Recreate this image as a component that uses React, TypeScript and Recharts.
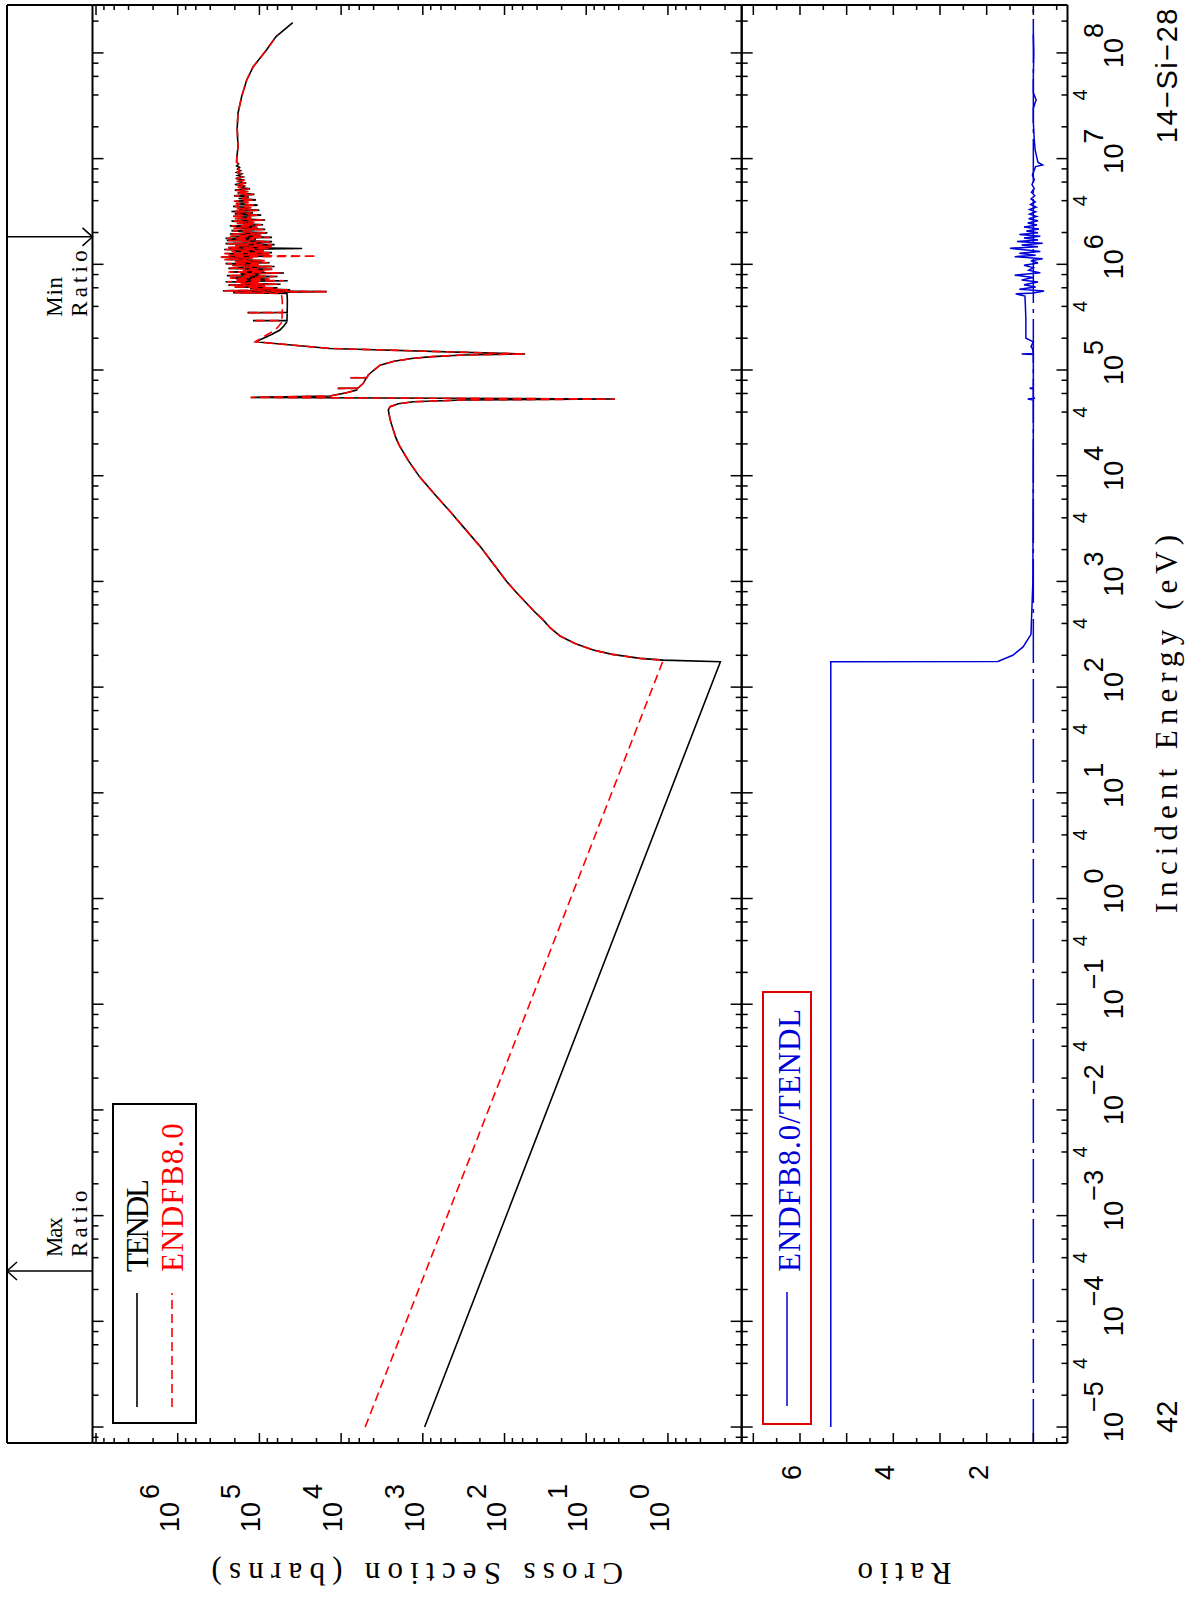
import React from "react";
import { LineChart, Line, XAxis, YAxis, ReferenceLine, Legend } from "recharts";

// page is portrait, the plot is drawn landscape and turned a quarter turn
const W = 1604;
const H = 1185;
const L = 161;
const R = 1599;
const T0 = 7;
const T1 = 92.5;
const B1 = 741.7;
const B2 = 1067.5;
const YW = 1;
const XH = 1;

const NUM_FONT = "'Liberation Sans', Arial, Helvetica, sans-serif";
const TXT_FONT = "'Liberation Serif', 'DejaVu Serif', serif";
const BLUE = "#0000d8";
const RED = "#ff0000";

const E_DOMAIN = [7.06e-6, 2.84e8];
const XS_DOMAIN = [0.125, 1.104e7];
const RATIO_DOMAIN = [0.268, 7.249];

const E_DECADES = [-6, -5, -4, -3, -2, -1, 0, 1, 2, 3, 4, 5, 6, 7, 8];
const XS_DECADES = [-1, 0, 1, 2, 3, 4, 5, 6, 7];
const MINOR_MULTS = [2, 4, 6, 8];
const E_LABEL_MULT = 4;
const XS_LABEL_DECADES = [0, 1, 2, 3, 4, 5, 6];
const RATIO_TICKS = [0.5, 1, 1.5, 2, 2.5, 3, 3.5, 4, 4.5, 5, 5.5, 6, 6.5, 7];
const RATIO_LABELS = [2, 4, 6];
const LEGEND_ORDER = ["TENDL", "ENDFB8.0"];

const MAX_RATIO_E = 2.99e-4;
const MIN_RATIO_E = 1.82e6;

// cross sections (eV, barns)
const TENDL_LOW_E = [1e-5, 174];
const TENDL_LOW_XS = [950, 0.228];
const ENDF_LOW_E = [1e-5];
const ENDF_LOW_XS = [5073];

const SHARED_E = [180, 187, 204, 224, 257, 304, 363, 440, 519, 615, 794, 1005, 1445, 2090, 3090, 4560, 6607, 9750, 13800, 19500, 22900, 27000, 33900, 41900, 45000, 47900, 50100, 52000, 53200, 55000, 56700, 61000, 64700, 67000, 67100, 67200, 74800, 84400, 84600, 84800, 89700, 100000, 111000, 121000, 129000, 134000, 138700, 141700, 160000, 185000];
const SHARED_XS = [1.14, 2.19, 4.79, 8.2, 13.5, 20.9, 27.5, 34.4, 43.2, 53, 72.4, 94.6, 135, 194, 299, 460, 708, 1094, 1496, 1950, 2138, 2296, 2512, 2644, 2512, 1995, 1318, 324, 4.44, 1.28e5, 1.37e4, 8600, 6440, 6300, 1.1e4, 6250, 5350, 4900, 7700, 4850, 4650, 3950, 3340, 2250, 1306, 760, 319, 56, 1.37e4, 1.12e5];

const MID_E = [199500, 218000, 239000, 262000, 285000, 292000, 293000, 294000, 330000, 348000, 349000, 350000, 459000, 530000];
const TENDL_MID_XS = [8.95e4, 7.0e4, 5.6e4, 5.0e4, 4.62e4, 4.6e4, 1.2e5, 4.6e4, 4.58e4, 4.57e4, 1.4e5, 4.57e4, 4.55e4, 4.6e4];
const ENDF_MID_XS = [9.6e4, 7.9e4, 6.4e4, 5.75e4, 5.3e4, 5.3e4, 1.2e5, 5.3e4, 5.27e4, 5.25e4, 1.4e5, 5.25e4, 5.25e4, 5.4e4];

const RES_E = [5.4e5, 5.52e5, 5.62e5, 5.75e5, 5.9e5, 6.0e5, 6.12e5, 6.22e5, 6.35e5, 6.48e5, 6.6e5, 6.72e5, 6.85e5, 7.0e5, 7.12e5, 7.25e5, 7.4e5, 7.55e5, 7.68e5, 7.82e5, 7.98e5, 8.12e5, 8.28e5, 8.45e5, 8.62e5, 8.8e5, 8.98e5, 9.15e5, 9.35e5, 9.55e5, 9.75e5, 9.95e5, 1.015e6, 1.035e6, 1.06e6, 1.085e6, 1.11e6, 1.14e6, 1.17e6, 1.195e6, 1.215e6, 1.24e6, 1.265e6, 1.29e6, 1.32e6, 1.35e6, 1.38e6, 1.41e6, 1.44e6, 1.47e6, 1.5e6, 1.535e6, 1.57e6, 1.605e6, 1.64e6, 1.68e6, 1.72e6, 1.76e6, 1.8e6, 1.845e6, 1.89e6, 1.935e6, 1.985e6, 2.035e6, 2.085e6, 2.14e6, 2.195e6, 2.25e6, 2.31e6, 2.37e6, 2.43e6, 2.495e6, 2.56e6, 2.63e6, 2.7e6, 2.77e6, 2.845e6, 2.92e6, 3.0e6, 3.08e6, 3.16e6, 3.25e6, 3.34e6, 3.43e6, 3.53e6, 3.63e6, 3.73e6, 3.84e6, 3.95e6, 4.07e6, 4.19e6, 4.32e6, 4.45e6, 4.59e6, 4.73e6, 4.88e6, 5.03e6, 5.19e6, 5.35e6, 5.52e6, 5.7e6, 5.88e6, 6.07e6, 6.27e6, 6.48e6, 6.7e6, 6.93e6, 7.17e6, 7.42e6, 7.68e6, 7.96e6, 8.25e6, 8.56e6, 8.9e6, 9.27e6, 9.7e6];
const TENDL_RES_XS = [
  2.1e5, 1.5e4, 2.8e5, 4.2e4, 1.3e5, 6.0e4, 2.0e5, 9.0e4, 2.4e5, 5.5e4,
  1.6e5, 1.1e5, 2.6e5, 4.5e4, 1.9e5, 8.0e4, 2.2e5, 1.2e5, 6.0e4, 2.5e5,
  1.0e5, 1.7e5, 5.0e4, 2.3e5, 9.0e4, 1.5e5, 7.0e4, 2.4e5, 1.3e5, 6.5e4,
  2.1e5, 1.05e5, 2.6e5, 7.5e4, 1.9e5, 9.0e4, 2.6e5, 1.3e5, 2.9e5, 8.5e4,
  2.3e5, 8.0e4, 2.6e5, 7.0e4, 2.1e5, 9.0e4, 2.7e5, 3.0e4, 2.4e5, 7.5e4,
  1.9e5, 6.5e4, 2.6e5, 1.0e5, 7.0e4, 2.5e5, 1.1e5, 2.6e5, 7.0e4, 2.2e5,
  1.0e5, 2.3e5, 8.0e4, 1.6e5, 2.2e5, 8.5e4, 2.0e5, 1.1e5, 2.3e5, 9.0e4,
  1.8e5, 1.2e5, 2.2e5, 8.5e4, 1.9e5, 1.3e5, 2.1e5, 9.5e4, 2.0e5, 1.2e5,
  2.2e5, 1.0e5, 1.8e5, 1.3e5, 2.1e5, 1.05e5, 1.9e5, 1.4e5, 2.0e5, 1.1e5,
  1.8e5, 1.35e5, 2.05e5, 1.15e5, 1.85e5, 1.4e5, 2.0e5, 1.3e5, 1.8e5, 1.5e5,
  2.0e5, 1.45e5, 1.85e5, 1.55e5, 1.95e5, 1.6e5, 1.85e5, 1.65e5, 1.9e5, 1.7e5,
  1.85e5, 1.75e5, 1.9e5, 1.8e5, 1.9e5, 1.9e5,
];
const ENDF_RES_XS = [
  2.0e5, 1.5e4, 2.7e5, 4.5e4, 1.25e5, 6.5e4, 2.1e5, 8.5e4, 2.3e5, 6.0e4,
  1.7e5, 1.0e5, 2.5e5, 5.0e4, 2.0e5, 7.5e4, 2.3e5, 1.1e5, 6.5e4, 2.4e5,
  1.05e5, 1.6e5, 5.5e4, 2.4e5, 8.5e4, 1.6e5, 6.5e4, 2.3e5, 1.4e5, 7.0e4,
  2.2e5, 1.0e5, 2.5e5, 8.0e4, 2.0e5, 8.5e4, 2.7e5, 1.2e5, 3.0e5, 2.0e4,
  2.4e5, 7.5e4, 2.7e5, 7.5e4, 2.2e5, 8.5e4, 2.6e5, 7.5e4, 2.5e5, 7.0e4,
  2.0e5, 7.0e4, 2.5e5, 1.05e5, 7.5e4, 2.4e5, 1.15e5, 2.5e5, 7.5e4, 2.3e5,
  9.5e4, 2.2e5, 8.5e4, 1.7e5, 2.1e5, 9.0e4, 2.1e5, 1.05e5, 2.2e5, 9.5e4,
  1.9e5, 1.15e5, 2.1e5, 9.0e4, 2.0e5, 1.25e5, 2.2e5, 1.0e5, 1.9e5, 1.25e5,
  2.1e5, 1.05e5, 1.9e5, 1.25e5, 2.0e5, 1.1e5, 1.95e5, 1.35e5, 2.05e5, 1.15e5,
  1.75e5, 1.4e5, 2.0e5, 1.2e5, 1.9e5, 1.35e5, 1.95e5, 1.35e5, 1.85e5, 1.45e5,
  1.95e5, 1.5e5, 1.9e5, 1.5e5, 1.9e5, 1.65e5, 1.8e5, 1.7e5, 1.85e5, 1.75e5,
  1.8e5, 1.8e5, 1.85e5, 1.8e5, 1.9e5, 1.9e5,
];

const HIGH_E = [1.3e7, 1.94e7, 2.68e7, 3.86e7, 5.55e7, 7.41e7, 1.07e8, 1.42e8];
const HIGH_XS = [1.83e5, 1.87e5, 1.83e5, 1.65e5, 1.43e5, 1.19e5, 8.15e4, 6.3e4];
const TENDL_TAIL_E = [1.93e8];
const TENDL_TAIL_XS = [3.91e4];
const ENDF_TAIL_E = [1.5e8];
const ENDF_TAIL_XS = [5.9e4];

// ENDFB8.0 / TENDL
const RATIO_E = [
  1e-5, 174, 175, 200, 240, 316, 1000, 30000, 52000, 53200, 54000, 56000, 66000, 67100, 68000, 140000, 141700, 143000, 160000, 166000, 185000, 200000, 300000, 400000, 500000, 525000, 535000,
  5.6e5, 5.8e5, 6.1e5, 6.4e5, 6.8e5, 7.1e5, 7.5e5, 7.9e5, 8.3e5, 8.8e5, 9.3e5, 9.8e5, 1.03e6, 1.08e6, 1.13e6, 1.18e6, 1.22e6, 1.27e6, 1.32e6, 1.37e6, 1.42e6, 1.47e6, 1.52e6, 1.58e6, 1.64e6, 1.7e6, 1.77e6, 1.84e6, 1.91e6, 1.99e6, 2.07e6, 2.16e6, 2.25e6, 2.35e6, 2.46e6, 2.58e6, 2.7e6, 2.84e6, 2.98e6, 3.14e6, 3.3e6, 3.48e6, 3.68e6, 3.9e6, 4.15e6, 4.45e6, 4.8e6, 5.2e6, 5.7e6, 6.3e6, 7.0e6, 7.8e6, 8.4e6, 8.7e6, 9.2e6, 1.0e7, 1.2e7, 1.5e7, 2.2e7, 3.0e7, 3.6e7, 4.2e7, 6e7, 1e8, 1.5e8,
];
const RATIO_V = [
  5.34, 5.34, 1.76, 1.44, 1.22, 1.05, 1.01, 1.0, 1.0, 1.12, 0.98, 1.0, 1.0, 1.08, 1.0, 1.0, 1.25, 1.0, 1.02, 1.05, 1.0, 1.16, 1.16, 1.17, 1.18, 1.38, 1.0,
  0.77, 1.3, 0.95, 1.2, 0.9, 1.25, 1.0, 1.4, 0.85, 1.1, 1.0, 1.2, 0.9, 1.05, 0.8, 1.4, 0.95, 1.3, 0.85, 1.2, 1.5, 0.9, 1.25, 0.8, 1.35, 0.9, 1.2, 0.85, 1.3, 0.9, 1.15, 0.88, 1.2, 0.92, 1.12, 0.9, 1.1, 0.93, 1.08, 0.95, 1.08, 0.94, 1.06, 0.96, 1.05, 0.97, 1.04, 0.98, 1.03, 0.98, 1.02, 0.98, 0.95, 0.8, 0.9, 0.92, 0.96, 0.98, 1.0, 1.0, 0.94, 1.0, 1.0, 0.99, 1.0,
];

const pairs = (es: number[], vs: number[], key: string) => es.map((e, i) => ({ e, [key]: vs[i] }));

const tendlData = [
  ...pairs(TENDL_LOW_E, TENDL_LOW_XS, "xs"),
  ...pairs(SHARED_E, SHARED_XS, "xs"),
  ...pairs(MID_E, TENDL_MID_XS, "xs"),
  ...pairs(RES_E, TENDL_RES_XS, "xs"),
  ...pairs(HIGH_E, HIGH_XS, "xs"),
  ...pairs(TENDL_TAIL_E, TENDL_TAIL_XS, "xs"),
];
const endfData = [
  ...pairs(ENDF_LOW_E, ENDF_LOW_XS, "xs"),
  ...pairs(SHARED_E, SHARED_XS, "xs"),
  ...pairs(MID_E, ENDF_MID_XS, "xs"),
  ...pairs(RES_E, ENDF_RES_XS, "xs"),
  ...pairs(HIGH_E, HIGH_XS, "xs"),
  ...pairs(ENDF_TAIL_E, ENDF_TAIL_XS, "xs"),
];
const ratioData = pairs(RATIO_E, RATIO_V, "r");

const decadeTicks = (decades: number[], dom: number[]) =>
  decades
    .flatMap((d) => [1, ...MINOR_MULTS].map((m) => m * Math.pow(10, d)))
    .filter((v) => v >= dom[0] && v <= dom[1])
    .sort((a, b) => a - b);

const E_TICKS = decadeTicks(E_DECADES, E_DOMAIN);
const XS_TICKS = decadeTicks(XS_DECADES, XS_DOMAIN);

const split = (v: number) => {
  const e = Math.floor(Math.log10(v) + 1e-9);
  return { e, m: Math.round(v / Math.pow(10, e)) };
};

const expText = (e: number) => (e < 0 ? "\u2212" + -e : String(e));

// typewriter-like text: serif glyphs on an even advance
const Mono = ({ children, adv, ...rest }: any) => {
  const s = String(children);
  return (
    <text fontFamily={TXT_FONT} textLength={s.length * adv} lengthAdjust="spacing" {...rest}>
      {s}
    </text>
  );
};

const energyTick = (dir: number, labels: boolean) => (p: any) => {
  const { x, y, payload } = p;
  const { e, m } = split(payload.value);
  const major = m === 1;
  return (
    <g>
      <line x1={x} x2={x} y1={y} y2={y + dir * (major ? 11 : 6)} stroke="#000" strokeWidth={1.5} />
      {labels && major && (
        <g fontFamily={NUM_FONT} fontSize={27} fill="#000">
          <text x={x} y={y + 55.5} textAnchor="middle">10</text>
          <text x={x + 15} y={y + 35.5}>{expText(e)}</text>
        </g>
      )}
      {labels && m === E_LABEL_MULT && (
        <text x={x} y={y + 19.5} textAnchor="middle" fontFamily={NUM_FONT} fontSize={20}>
          {E_LABEL_MULT}
        </text>
      )}
    </g>
  );
};

const xsTick = (dir: number, labels: boolean) => (p: any) => {
  const { x, y, payload } = p;
  const { e, m } = split(payload.value);
  const major = m === 1;
  return (
    <g>
      <line x1={x} x2={x + dir * (major ? 10 : 5)} y1={y} y2={y} stroke="#000" strokeWidth={1.5} />
      {labels && major && XS_LABEL_DECADES.includes(e) && (
        <g fontFamily={NUM_FONT} fontSize={27} fill="#000">
          <text x={x - 59} y={y + 1} textAnchor="end">10</text>
          <text x={x - 56} y={y - 19}>{expText(e)}</text>
        </g>
      )}
    </g>
  );
};

const ratioTick = (dir: number, labels: boolean) => (p: any) => {
  const { x, y, payload } = p;
  const v = payload.value;
  const major = Number.isInteger(v);
  return (
    <g>
      <line x1={x} x2={x + dir * (major ? 10 : 5)} y1={y} y2={y} stroke="#000" strokeWidth={1.5} />
      {labels && RATIO_LABELS.includes(v) && (
        <text x={x - 22} y={y + 1} textAnchor="end" fontFamily={NUM_FONT} fontSize={27}>
          {v}
        </text>
      )}
    </g>
  );
};

const axisLine = { stroke: "#000", strokeWidth: 2 };
const common = { tickLine: false, tickSize: 0, tickMargin: 0, axisLine, interval: 0 as const, allowDataOverflow: true };

const arrowLabel = (title: string, atTop: boolean) => (p: any) => {
  const vb = p.viewBox || {};
  const x = vb.x ?? 0;
  const top = vb.y ?? T0;
  const bottom = top + (vb.height ?? T1 - T0);
  const tip = atTop ? top : bottom;
  const wing = atTop ? top + 10 : bottom - 10;
  const tx = atTop ? x + 14 : x - 80;
  return (
    <g>
      <polyline points={`${x - 9},${wing} ${x},${tip} ${x + 9},${wing}`} fill="none" stroke="#000" strokeWidth={1.5} />
      <g fontSize={23} fill="#000">
        <Mono x={tx} y={top + 55} adv={13.3}>{title}</Mono>
        <Mono x={tx} y={top + 80} adv={13.3}>Ratio</Mono>
      </g>
    </g>
  );
};

const ordered = (payload: any[]) =>
  [...(payload || [])].sort((a, b) => LEGEND_ORDER.indexOf(a.value) - LEGEND_ORDER.indexOf(b.value));

const XsLegend = (p: any) => (
  <svg width={321} height={85} style={{ display: "block" }}>
    <rect x={1} y={1} width={319} height={83} fill="none" stroke="#000" strokeWidth={2} />
    {ordered(p.payload).map((it: any, i: number) => {
      const ly = 25 + i * 35;
      return (
        <g key={it.value}>
          <line x1={17} x2={131} y1={ly} y2={ly} stroke={it.color} strokeWidth={1.6} strokeDasharray={it.payload?.strokeDasharray} />
          <Mono x={152} y={ly + 11} fill={it.color} fontSize={31} adv={18.6}>{it.value}</Mono>
        </g>
      );
    })}
  </svg>
);

const RatioLegend = (p: any) => (
  <svg width={434} height={50} style={{ display: "block" }}>
    <rect x={1} y={1} width={432} height={48} fill="none" stroke="#e00000" strokeWidth={2} />
    {(p.payload || []).map((it: any) => (
      <g key={it.value}>
        <line x1={19} x2={133} y1={25} y2={25} stroke={it.color} strokeWidth={1.5} />
        <Mono x={153} y={38} fill={it.color} fontSize={31} adv={18.8}>{it.value}</Mono>
      </g>
    ))}
  </svg>
);

const sideTitle = (title: string, adv: number) => (p: any) => {
  const vb = p.viewBox || {};
  const cy = (vb.y ?? 0) + (vb.height ?? 0) / 2;
  const x = L - 120;
  return (
    <Mono x={x} y={cy} transform={`rotate(-90, ${x}, ${cy})`} textAnchor="middle" fontSize={31} fill="#000" adv={adv}>
      {title}
    </Mono>
  );
};

const bottomTitles = (p: any) => {
  const vb = p.viewBox || {};
  const y0 = vb.y ?? B2;
  const cx = (vb.x ?? L) + (vb.width ?? R - L) / 2;
  return (
    <g fill="#000">
      <Mono x={cx} y={y0 + 109.5} textAnchor="middle" fontSize={31} adv={18.9}>Incident Energy (eV)</Mono>
      <text x={R - 2} y={y0 + 109.5} textAnchor="end" fontFamily={NUM_FONT} fontSize={29} letterSpacing={1.5}>14{"\u2212"}Si{"\u2212"}28</text>
      <text x={L + 10} y={y0 + 109.5} fontFamily={NUM_FONT} fontSize={29}>42</text>
    </g>
  );
};

const layer: React.CSSProperties = { position: "absolute", left: 0, top: 0 };

export default function App() {
  return (
    <div
      style={{
        position: "absolute",
        left: 0,
        top: 0,
        width: W,
        height: H,
        background: "#fff",
        transformOrigin: "0 0",
        transform: `translate(0px, ${W}px) rotate(-90deg)`,
      }}
    >
      {/* strip with the max / min ratio markers */}
      <div style={layer}>
        <LineChart width={W} height={H} margin={{ top: T0 - XH, left: L - YW, right: W - R - YW, bottom: H - T1 }}>
          <XAxis xAxisId="t" orientation="top" type="number" dataKey="e" scale="log" domain={E_DOMAIN} height={XH} tick={false} {...common} />
          <YAxis yAxisId="l" type="number" domain={[0, 1]} width={YW} tick={false} {...common} />
          <YAxis yAxisId="r" orientation="right" type="number" domain={[0, 1]} width={YW} tick={false} {...common} />
          <ReferenceLine xAxisId="t" yAxisId="l" x={MAX_RATIO_E} stroke="#000" strokeWidth={1.5} label={arrowLabel("Max", true)} />
          <ReferenceLine xAxisId="t" yAxisId="l" x={MIN_RATIO_E} stroke="#000" strokeWidth={1.5} label={arrowLabel("Min", false)} />
        </LineChart>
      </div>

      {/* cross sections */}
      <div style={layer}>
        <LineChart width={W} height={H} margin={{ top: T1 - XH, left: L - YW, right: W - R - YW, bottom: H - B1 - XH }}>
          <XAxis xAxisId="t" orientation="top" type="number" dataKey="e" scale="log" domain={E_DOMAIN} ticks={E_TICKS} height={XH} tick={energyTick(1, false)} {...common} />
          <XAxis xAxisId="b" orientation="bottom" type="number" dataKey="e" scale="log" domain={E_DOMAIN} ticks={E_TICKS} height={XH} tick={energyTick(-1, false)} {...common} />
          <YAxis yAxisId="l" type="number" scale="log" domain={XS_DOMAIN} ticks={XS_TICKS} width={YW} tick={xsTick(1, true)} label={sideTitle("Cross Section (barns)", 19.6)} {...common} />
          <YAxis yAxisId="r" orientation="right" type="number" scale="log" domain={XS_DOMAIN} ticks={XS_TICKS} width={YW} tick={xsTick(-1, false)} {...common} />
          <Line xAxisId="b" yAxisId="l" name="TENDL" data={tendlData} dataKey="xs" stroke="#000" strokeWidth={1.6} dot={false} isAnimationActive={false} />
          <Line xAxisId="b" yAxisId="l" name="ENDFB8.0" data={endfData} dataKey="xs" stroke={RED} strokeWidth={1.6} strokeDasharray="9 5" dot={false} isAnimationActive={false} />
          <Legend layout="vertical" align="center" verticalAlign="middle" content={XsLegend} wrapperStyle={{ left: 180, top: 112, width: 321, height: 85 }} />
        </LineChart>
      </div>

      {/* ratio */}
      <div style={layer}>
        <LineChart width={W} height={H} margin={{ top: B1 - XH, left: L - YW, right: W - R - YW, bottom: H - B2 - XH }}>
          <XAxis xAxisId="t" orientation="top" type="number" dataKey="e" scale="log" domain={E_DOMAIN} ticks={E_TICKS} height={XH} tick={energyTick(1, false)} {...common} />
          <XAxis xAxisId="b" orientation="bottom" type="number" dataKey="e" scale="log" domain={E_DOMAIN} ticks={E_TICKS} height={XH} tick={energyTick(-1, true)} label={bottomTitles} {...common} />
          <YAxis yAxisId="l" type="number" domain={RATIO_DOMAIN} ticks={RATIO_TICKS} width={YW} tick={ratioTick(1, true)} label={sideTitle("Ratio", 18.8)} {...common} />
          <YAxis yAxisId="r" orientation="right" type="number" domain={RATIO_DOMAIN} ticks={RATIO_TICKS} width={YW} tick={ratioTick(-1, false)} {...common} />
          <ReferenceLine xAxisId="b" yAxisId="l" y={1} stroke={BLUE} strokeWidth={1.5} strokeDasharray="44 6 4 6" />
          <Line xAxisId="b" yAxisId="l" name="ENDFB8.0/TENDL" data={ratioData} dataKey="r" stroke={BLUE} strokeWidth={1.5} dot={false} isAnimationActive={false} />
          <Legend layout="vertical" align="center" verticalAlign="middle" content={RatioLegend} wrapperStyle={{ left: 179, top: 762, width: 434, height: 50 }} />
        </LineChart>
      </div>
    </div>
  );
}
